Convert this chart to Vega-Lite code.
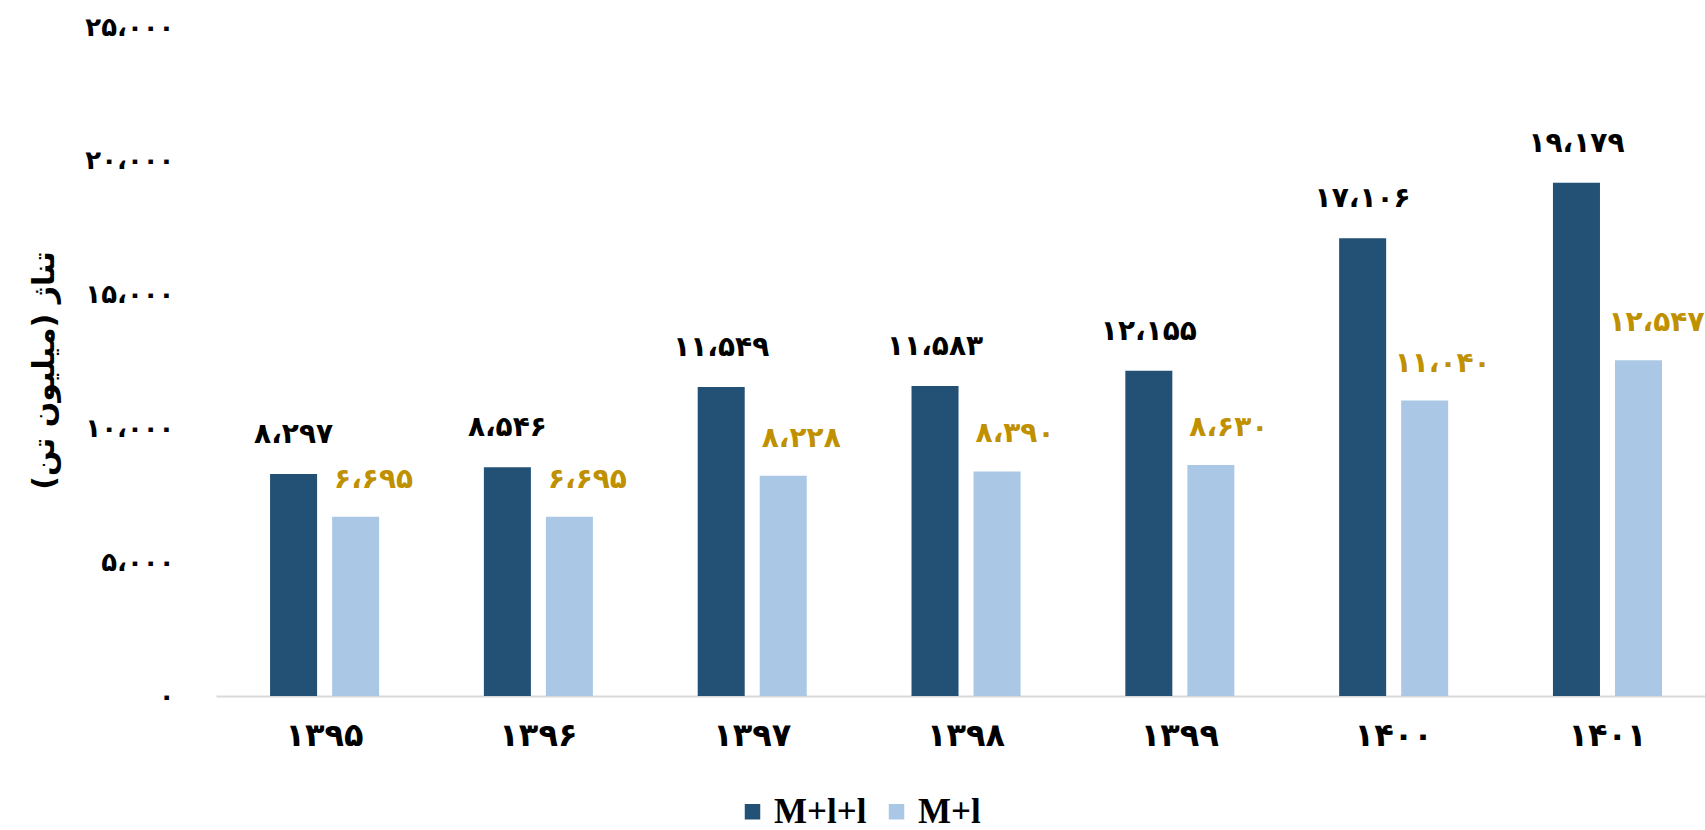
{
  "$schema": "https://vega.github.io/schema/vega-lite/v6.json",
  "autosize": {"type": "none"},
  "width": 1489,
  "height": 669,
  "padding": {"left": 216, "top": 27, "right": 0, "bottom": 134},
  "background": "white",
  "view": {"stroke": null},
  "data": {
    "values": [
      {"year": "۱۳۹۵", "series": "M+l+l", "value": 8297, "label": "۸،۲۹۷"},
      {"year": "۱۳۹۵", "series": "M+l", "value": 6695, "label": "۶،۶۹۵"},
      {"year": "۱۳۹۶", "series": "M+l+l", "value": 8546, "label": "۸،۵۴۶"},
      {"year": "۱۳۹۶", "series": "M+l", "value": 6695, "label": "۶،۶۹۵"},
      {"year": "۱۳۹۷", "series": "M+l+l", "value": 11549, "label": "۱۱،۵۴۹"},
      {"year": "۱۳۹۷", "series": "M+l", "value": 8228, "label": "۸،۲۲۸"},
      {"year": "۱۳۹۸", "series": "M+l+l", "value": 11583, "label": "۱۱،۵۸۳"},
      {"year": "۱۳۹۸", "series": "M+l", "value": 8390, "label": "۸،۳۹۰"},
      {"year": "۱۳۹۹", "series": "M+l+l", "value": 12155, "label": "۱۲،۱۵۵"},
      {"year": "۱۳۹۹", "series": "M+l", "value": 8630, "label": "۸،۶۳۰"},
      {"year": "۱۴۰۰", "series": "M+l+l", "value": 17106, "label": "۱۷،۱۰۶"},
      {"year": "۱۴۰۰", "series": "M+l", "value": 11040, "label": "۱۱،۰۴۰"},
      {"year": "۱۴۰۱", "series": "M+l+l", "value": 19179, "label": "۱۹،۱۷۹"},
      {"year": "۱۴۰۱", "series": "M+l", "value": 12547, "label": "۱۲،۵۴۷"}
    ]
  },
  "encoding": {
    "x": {
      "field": "year", "type": "nominal", "sort": null,
      "scale": {"paddingInner": 0.49, "paddingOuter": 0.227, "align": 0.557},
      "axis": {
        "title": null, "labelAngle": 0, "ticks": false,
        "domainColor": "#d9d9d9", "domainWidth": 2,
        "labelFont": "DejaVu Sans", "labelFontWeight": "bold", "labelFontSize": 32,
        "labelColor": "#000000", "labelPadding": 24, "labelBaseline": "top"
      }
    },
    "xOffset": {
      "field": "series", "type": "nominal", "sort": ["M+l+l", "M+l"],
      "scale": {"paddingInner": 0.242, "paddingOuter": 0}
    },
    "y": {
      "field": "value", "type": "quantitative",
      "scale": {"domain": [0, 25000], "nice": false},
      "axis": {
        "values": [0, 5000, 10000, 15000, 20000, 25000],
        "grid": false, "domain": false, "ticks": false,
        "labelFont": "DejaVu Sans", "labelFontWeight": "bold", "labelFontSize": 26,
        "labelColor": "#000000", "labelPadding": 42,
        "labelExpr": "replace(replace(replace(replace(replace(replace(replace(replace(replace(replace(replace(format(datum.value, ','), regexp(',', 'g'), '،'), regexp('0', 'g'), '۰'), regexp('1', 'g'), '۱'), regexp('2', 'g'), '۲'), regexp('3', 'g'), '۳'), regexp('4', 'g'), '۴'), regexp('5', 'g'), '۵'), regexp('6', 'g'), '۶'), regexp('7', 'g'), '۷'), regexp('8', 'g'), '۸'), regexp('9', 'g'), '۹')",
        "title": "تناژ (میلیون تن)",
        "titleFont": "DejaVu Sans", "titleFontWeight": "bold", "titleFontSize": 30,
        "titleColor": "#000000", "titleX": -172, "titleY": 343, "titleAngle": -90,
        "titleAlign": "center", "titleBaseline": "middle"
      }
    }
  },
  "layer": [
    {
      "mark": {"type": "bar"},
      "encoding": {
        "color": {
          "field": "series", "type": "nominal", "sort": ["M+l+l", "M+l"],
          "scale": {"domain": ["M+l+l", "M+l"], "range": ["#235075", "#AAC8E6"]},
          "legend": {
            "title": null, "orient": "none", "direction": "horizontal",
            "legendX": 519, "legendY": 767,
            "symbolType": "square", "symbolSize": 240, "symbolStrokeWidth": 0,
            "labelFont": "Liberation Serif", "labelFontWeight": "bold", "labelFontSize": 35,
            "labelColor": "#000000", "columnPadding": 12, "labelOffset": 4
          }
        }
      }
    },
    {
      "transform": [{"filter": "datum.series == 'M+l+l'"}],
      "mark": {"type": "text", "font": "DejaVu Sans", "fontWeight": "bold", "fontSize": 28, "color": "#000000", "baseline": "middle", "dy": -39},
      "encoding": {"text": {"field": "label"}}
    },
    {
      "transform": [{"filter": "datum.series == 'M+l'"}],
      "mark": {"type": "text", "font": "DejaVu Sans", "fontWeight": "bold", "fontSize": 28, "color": "#BF9000", "baseline": "middle", "dy": -37, "dx": 18},
      "encoding": {"text": {"field": "label"}}
    }
  ]
}
